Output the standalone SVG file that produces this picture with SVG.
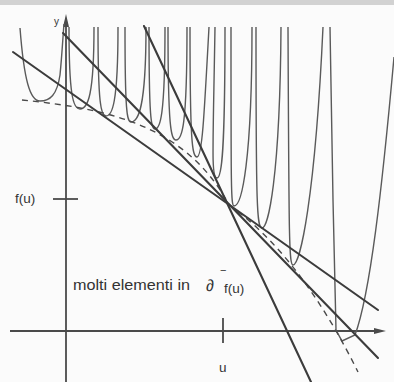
<svg xmlns="http://www.w3.org/2000/svg" width="394" height="382" viewBox="0 0 394 382">
<style>
.ax{stroke:#4a4a4a;stroke-width:1.8;fill:none}
.tl{stroke:#3c3c3c;stroke-width:2.1;fill:none;stroke-linecap:round}
.sp{stroke:#5a5a5a;stroke-width:1.4;fill:none}
.ds{stroke:#4a4a4a;stroke-width:1.4;fill:none;stroke-dasharray:6 5}
.t{font-family:"Liberation Sans",Arial,sans-serif;fill:#333}
</style>
<rect x="0" y="0" width="394" height="382" fill="#fbfbfb"/>
<rect x="0" y="0" width="394" height="5" fill="#d2d2d2"/>
<g id="axes">
<line class="ax" x1="66" y1="24" x2="66" y2="382"/>
<polygon points="66,14 63,27 69,27" fill="#4a4a4a"/>
<line class="ax" x1="10" y1="331" x2="376" y2="331"/>
<polygon points="386,331 374,328 374,334" fill="#4a4a4a"/>
<line class="ax" x1="53" y1="199" x2="78" y2="199"/>
<line class="ax" x1="223" y1="318" x2="223" y2="343"/>
</g>
<g id="spikes">
<path class="sp" d="M20,28 C24,80 30,101 40,101 C50,101 57,95 60,75 C62,55 63,35 64,24"/>
<path class="sp" d="M69,27 C69,95 73,109 80,109 C88,109 94,95 94,27"/>
<path class="sp" d="M98,27 C98,105 101,116 106,116 C112,116 118,105 118,27"/>
<path class="sp" d="M125,27 C125,112 127,122 131,122 C138,122 146,110 146,27"/>
<path class="sp" d="M149,27 C149,118 151,129 155,129 C160,129 165,118 165,27"/>
<path class="sp" d="M168,27 C168,128 171,140 176,140 C182,140 187,128 187,27"/>
<path class="sp" d="M190,27 C190,140 192,157 197,157 C202,157 204,120 209,27"/>
<path class="sp" d="M215,27 C213,150 211,178 217,178 C222,178 225,150 225,27"/>
<path class="sp" d="M231,27 C231,190 231,206 234,206 C242,206 252,160 252,27"/>
<path class="sp" d="M256,27 C256,210 257,228 262,228 C268,228 280,180 281,27"/>
<path class="sp" d="M288,27 C289,240 289,265 293,265 C300,265 315,200 323,27"/>
<path class="sp" d="M330,27 L333,200 L336,330 L342,341 L355,335 C370,295 382,190 394,57"/>
</g>
<g id="envelope">
<path class="ds" d="M22,100 C100,108 185,122 229,205"/>
<path class="ds" d="M229,205 C262,228 310,275 358,372"/>
</g>
<g id="tangents">
<line class="tl" x1="13" y1="52" x2="378" y2="310"/>
<line class="tl" x1="63" y1="33" x2="378" y2="358"/>
<line class="tl" x1="144" y1="26" x2="311" y2="382"/>
</g>
<g id="labels">
<text class="t" x="54" y="25" font-size="10">y</text>
<text class="t" x="15" y="203" font-size="13.5">f(u)</text>
<text class="t" x="73" y="290" font-size="14" textLength="117" lengthAdjust="spacingAndGlyphs">molti elementi in</text>
<text class="t" x="206" y="291" font-size="16">∂</text>
<text class="t" x="220" y="274" font-size="11">−</text>
<text class="t" x="224" y="293" font-size="13.5">f(u)</text>
<text class="t" x="219" y="372" font-size="13.5">u</text>
</g>
</svg>
